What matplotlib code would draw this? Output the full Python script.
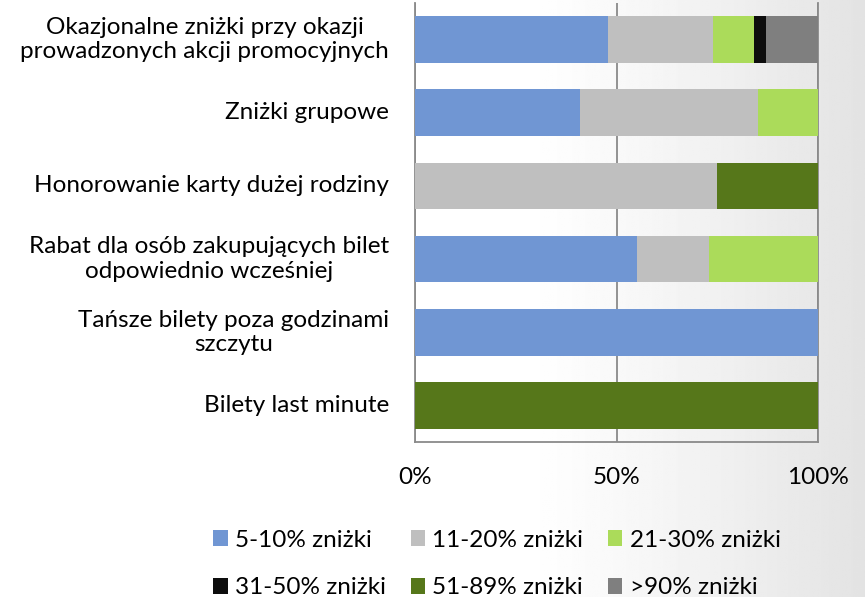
import numpy as np
import matplotlib
matplotlib.use("Agg")
import matplotlib.pyplot as plt

plt.rcParams["font.family"] = ["Lato", "DejaVu Sans"]

categories = [
    "Okazjonalne zniżki przy okazji\nprowadzonych akcji promocyjnych",
    "Zniżki grupowe",
    "Honorowanie karty dużej rodziny",
    "Rabat dla osób zakupujących bilet\nodpowiednio wcześniej",
    "Tańsze bilety poza godzinami\nszczytu",
    "Bilety last minute",
]
series_names = ["5-10% zniżki", "11-20% zniżki", "21-30% zniżki",
                "31-50% zniżki", "51-89% zniżki", ">90% zniżki"]
s_5_10 = [48, 41, 0, 55, 100, 0]
s_11_20 = [26, 44, 75, 18, 0, 0]
s_21_30 = [10, 15, 0, 27, 0, 0]
s_31_50 = [3, 0, 0, 0, 0, 0]
s_51_89 = [0, 0, 25, 0, 0, 100]
s_90 = [13, 0, 0, 0, 0, 0]
colors = ["#7096D3", "#BFBFBF", "#ABDB5A", "#0D0D0D", "#56771A", "#7F7F7F"]

fig = plt.figure(figsize=(8.65, 5.97), dpi=100)

# soft grey gradient towards the right edge
bg = fig.add_axes([0, 0, 1, 1], zorder=-10)
xx, yy = np.meshgrid(np.linspace(0, 1, 400), np.linspace(0, 1, 300))
t = np.clip((xx - 0.6) / 0.4, 0, 1) ** 1.2
shade = 1 - 0.11 * t
bg.imshow(shade, cmap="gray", vmin=0, vmax=1, aspect="auto", extent=[0, 1, 0, 1], origin="upper")
bg.axis("off")

ax = fig.add_axes([415 / 865, 1 - 442 / 597, 403 / 865, 439 / 597])
ax.patch.set_alpha(0)

y = np.arange(len(categories))
left = np.zeros(len(categories))
all_series = [s_5_10, s_11_20, s_21_30, s_31_50, s_51_89, s_90]
handles = []
for vals, name, col in zip(all_series, series_names, colors):
    b = ax.barh(y, vals, left=left, height=0.64, color=col, label=name, zorder=3)
    handles.append(b)
    left += np.array(vals)

ax.set_xlim(0, 100)
ax.set_ylim(len(categories) - 0.5, -0.5)
ax.set_xticks([0, 50, 100])
ax.set_xticklabels(["0%", "50%", "100%"])
ax.set_yticks(y)
ax.set_yticklabels([])
# category labels, centred line by line
for i, cat in enumerate(categories):
    ax.annotate(cat, xy=(0, i), xycoords=("axes fraction", "data"),
                xytext=(-26, 0), textcoords="offset pixels",
                ha="right", va="center", multialignment="center", fontsize=17.5)
ax.tick_params(axis="both", length=0, labelsize=17.5, colors="#000000")
ax.tick_params(axis="x", pad=18)
ax.grid(axis="x", color="#8a8a8a", linewidth=1.3, zorder=1)
for side in ["left", "right", "bottom"]:
    ax.spines[side].set_color("#8a8a8a")
    ax.spines[side].set_linewidth(1.3)
ax.spines["top"].set_visible(False)

order = [0, 3, 1, 4, 2, 5]
leg = fig.legend([handles[i] for i in order], [series_names[i] for i in order],
                 ncol=3, loc="center", bbox_to_anchor=(497 / 865, 1 - 564 / 597),
                 frameon=False, fontsize=17.5, handlelength=0.6, handleheight=0.6,
                 handletextpad=0.3, columnspacing=1.0, labelspacing=1.1)

fig.savefig("out.png", dpi=100)
